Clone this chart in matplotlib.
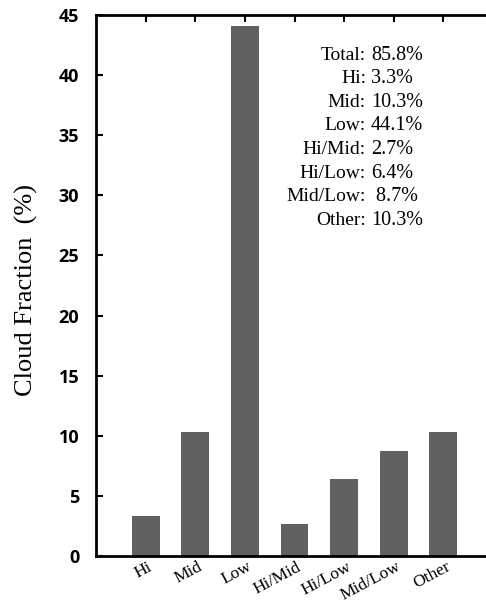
import matplotlib.pyplot as plt
import matplotlib.transforms as mtransforms

categories = ['Hi', 'Mid', 'Low', 'Hi/Mid', 'Hi/Low', 'Mid/Low', 'Other']
fractions = [3.3, 10.3, 44.1, 2.7, 6.4, 8.7, 10.3]
summary_labels = ['Total', 'Hi', 'Mid', 'Low', 'Hi/Mid', 'Hi/Low', 'Mid/Low', 'Other']
summary_values = ['85.8%', '3.3%', '10.3%', '44.1%', '2.7%', '6.4%', ' 8.7%', '10.3%']
yticks = [0, 5, 10, 15, 20, 25, 30, 35, 40, 45]

serif = ['Liberation Serif', 'DejaVu Serif']

fig = plt.figure(figsize=(4.86, 6.07), dpi=100)
ax = fig.add_axes([96 / 486, 51 / 607, 400 / 486, 541 / 607])

x = list(range(1, len(categories) + 1))
ax.bar(x, fractions, width=0.56, color='#616161', zorder=2)

ax.set_xlim(0, 8.06)
ax.set_ylim(0, 45)
ax.set_yticks(yticks)
ax.set_yticklabels([str(t) for t in yticks], fontsize=13, fontweight='bold',
                   family=['Open Sans', 'DejaVu Sans'])
ax.tick_params(axis='y', direction='in', length=5, width=1.5, pad=12)
ax.set_xticks(x)
ax.set_xticklabels(categories, rotation=28, ha='right', va='top', rotation_mode='anchor',
                   fontsize=12.5, family=serif)
ax.tick_params(axis='x', bottom=False, top=True, direction='in', length=5, width=1.5, pad=2)
shift = mtransforms.ScaledTranslation(2 / 100, 0, fig.dpi_scale_trans)
for lab in ax.get_xticklabels():
    lab.set_transform(lab.get_transform() + shift)

for s in ['left', 'bottom', 'top', 'right']:
    ax.spines[s].set_linewidth(2)

ax.set_ylabel('Cloud Fraction  (%)', fontsize=19, family=serif)
ax.yaxis.set_label_coords(-(96 - 38) / 400, (607 - 290 - 51) / 541)

y0 = (607 - 55 - 51) / 541
dy = 23.6 / 541
for i, (lab, val) in enumerate(zip(summary_labels, summary_values)):
    yy = y0 - i * dy
    ax.text((366 - 96) / 400, yy, lab + ':', transform=ax.transAxes, ha='right', va='center',
            fontsize=14, family=serif)
    ax.text((371 - 96) / 400, yy, val, transform=ax.transAxes, ha='left', va='center',
            fontsize=14.5, family=serif)

fig.savefig('out.png', dpi=100)
